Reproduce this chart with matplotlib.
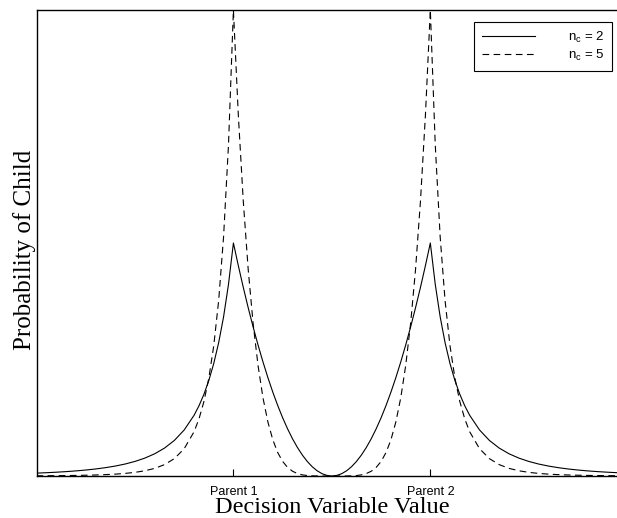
import matplotlib
matplotlib.use("Agg")
import matplotlib.pyplot as plt

# Decision variable positions (Parent 1 = 0, Parent 2 = 1)
x = [-1.00, -0.95, -0.90, -0.85, -0.80, -0.75, -0.70, -0.65, -0.60, -0.55,
     -0.50, -0.45, -0.40, -0.35, -0.30, -0.25, -0.20, -0.175, -0.15, -0.125,
     -0.10, -0.075, -0.05, -0.025, 0.00, 0.025, 0.05, 0.075, 0.10, 0.125,
     0.15, 0.175, 0.20, 0.225, 0.25, 0.275, 0.30, 0.325, 0.35, 0.375,
     0.40, 0.425, 0.45, 0.475, 0.50, 0.525, 0.55, 0.575, 0.60, 0.625,
     0.65, 0.675, 0.70, 0.725, 0.75, 0.775, 0.80, 0.825, 0.85, 0.875,
     0.90, 0.925, 0.95, 0.975, 1.00, 1.025, 1.05, 1.075, 1.10, 1.125,
     1.15, 1.175, 1.20, 1.25, 1.30, 1.35, 1.40, 1.45, 1.50, 1.55,
     1.60, 1.65, 1.70, 1.75, 1.80, 1.85, 1.90, 1.95, 2.00]

# Probability of child, n_c = 2
p_nc2 = [0.0185, 0.0212, 0.0244, 0.0282, 0.0328, 0.0384, 0.0452, 0.0536, 0.0640, 0.0771,
         0.0938, 0.1151, 0.1429, 0.1796, 0.2289, 0.2963, 0.3905, 0.4516, 0.5252, 0.6144,
         0.7234, 0.8576, 1.0245, 1.2341, 1.5000, 1.3538, 1.2150, 1.0838, 0.9600, 0.8438,
         0.7350, 0.6338, 0.5400, 0.4538, 0.3750, 0.3038, 0.2400, 0.1838, 0.1350, 0.0938,
         0.0600, 0.0338, 0.0150, 0.0038, 0.0000, 0.0038, 0.0150, 0.0338, 0.0600, 0.0938,
         0.1350, 0.1838, 0.2400, 0.3038, 0.3750, 0.4538, 0.5400, 0.6338, 0.7350, 0.8438,
         0.9600, 1.0838, 1.2150, 1.3538, 1.5000, 1.2341, 1.0245, 0.8576, 0.7234, 0.6144,
         0.5252, 0.4516, 0.3905, 0.2963, 0.2289, 0.1796, 0.1429, 0.1151, 0.0938, 0.0771,
         0.0640, 0.0536, 0.0452, 0.0384, 0.0328, 0.0282, 0.0244, 0.0212, 0.0185]

# Probability of child, n_c = 5
p_nc5 = [0.0014, 0.0017, 0.0022, 0.0029, 0.0037, 0.0049, 0.0065, 0.0088, 0.0120, 0.0167,
         0.0234, 0.0336, 0.0490, 0.0731, 0.1118, 0.1756, 0.2846, 0.3671, 0.4781, 0.6291,
         0.8372, 1.1278, 1.5395, 2.1320, 3.0000, 2.3213, 1.7715, 1.3311, 0.9830, 0.7119,
         0.5042, 0.3481, 0.2333, 0.1510, 0.0938, 0.0554, 0.0307, 0.0158, 0.0073, 0.0029,
         0.0010, 0.0002, 0.0000, 0.0000, 0.0000, 0.0000, 0.0000, 0.0002, 0.0010, 0.0029,
         0.0073, 0.0158, 0.0307, 0.0554, 0.0938, 0.1510, 0.2333, 0.3481, 0.5042, 0.7119,
         0.9830, 1.3311, 1.7715, 2.3213, 3.0000, 2.1320, 1.5395, 1.1278, 0.8372, 0.6291,
         0.4781, 0.3671, 0.2846, 0.1756, 0.1118, 0.0731, 0.0490, 0.0336, 0.0234, 0.0167,
         0.0120, 0.0088, 0.0065, 0.0049, 0.0037, 0.0029, 0.0022, 0.0017, 0.0014]

tick_pos = [0, 1]
tick_labels = ["Parent 1", "Parent 2"]
series_labels = [r"n$_\mathregular{c}$ = 2", r"n$_\mathregular{c}$ = 5"]

W, H = 617, 518
fig = plt.figure(figsize=(W / 100, H / 100), dpi=100)
ax = fig.add_axes([36.5 / W, 42 / H, 1 - 36.5 / W, 466 / H])

ax.plot(x, p_nc2, color="black", lw=0.8, ls="-", label=series_labels[0])
ax.plot(x, p_nc5, color="black", lw=0.8, ls=(0, (6, 4)), label=series_labels[1])

ax.set_xlim(-1.0, 1.948)
ax.set_ylim(0, 3.0)
ax.set_yticks([])
ax.set_xticks(tick_pos)
ax.set_xticklabels(tick_labels, fontsize=9, family="Liberation Sans")
ax.tick_params(axis="x", direction="in", length=5, width=0.8, pad=7)

for s in ["left", "bottom", "top"]:
    ax.spines[s].set_linewidth(1.0)
ax.spines["right"].set_visible(False)

fig.text(332 / W, 1 - 513 / H, "Decision Variable Value", family="Liberation Serif",
         fontsize=17.5, ha="center", va="baseline")
fig.text(31 / W, 1 - 250 / H, "Probability of Child", family="Liberation Serif",
         fontsize=18, rotation=90, rotation_mode="anchor", ha="center", va="baseline")

leg = ax.legend(loc="upper right", bbox_to_anchor=(612 / W, 1 - 22 / H),
                bbox_transform=fig.transFigure, borderaxespad=0,
                fancybox=False, framealpha=1, edgecolor="black",
                handlelength=4.0, handletextpad=2.5, borderpad=0.6,
                labelspacing=0.2, prop={"family": "Liberation Sans", "size": 9.5})
leg.get_frame().set_linewidth(0.8)

fig.savefig("out.png", dpi=100)
